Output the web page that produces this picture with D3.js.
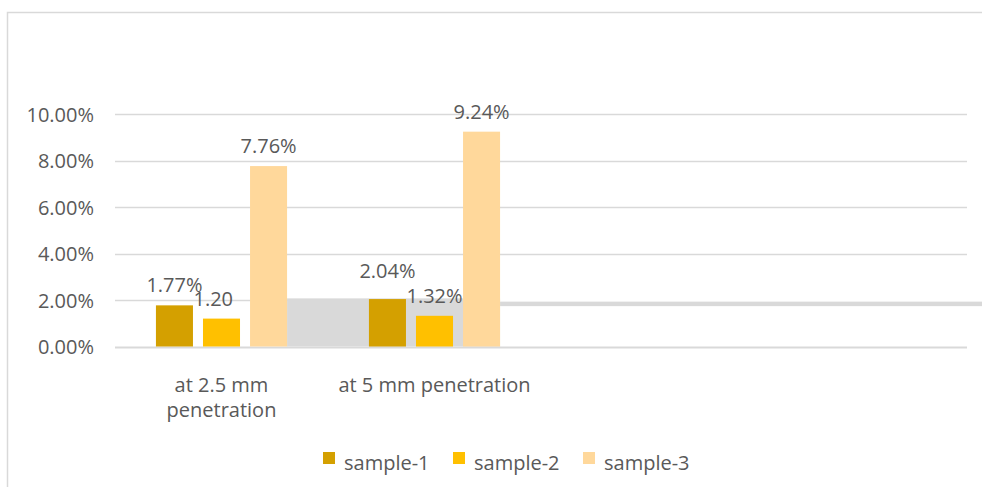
<!DOCTYPE html>
<html>
<head>
<meta charset="utf-8">
<script src="https://cdn.jsdelivr.net/npm/d3@7/dist/d3.min.js"></script>
<style>
  html, body { margin: 0; padding: 0; background: #ffffff; }
  svg { display: block; }
  text { font-family: "Open Sans", "Noto Sans", sans-serif; fill: #595959; }
</style>
</head>
<body>
<svg id="chart" width="982" height="487"></svg>
<script>
// Categories (the two trailing slots are empty, as in the source workbook)
const categories = ["at 2.5 mm penetration", "at 5 mm penetration", "", " "];
const categoryLines = [["at 2.5 mm", "penetration"], ["at 5 mm penetration"], [], []];
const seriesNames = ["sample-1", "sample-2", "sample-3"];
const sample1 = [1.77, 2.04];
const sample2 = [1.20, 1.32];
const sample3 = [7.76, 9.24];
const seriesColors = ["#d4a000", "#ffc000", "#ffd89b"];
// Label text shown on the bars (the second one is truncated in the source)
const labelText1 = ["1.77%", "2.04%"];
const labelText2 = ["1.20", "1.32%"];
const labelText3 = ["7.76%", "9.24%"];
const yTicks = [0, 2, 4, 6, 8, 10];

const series = [sample1, sample2, sample3];
const labels = [labelText1, labelText2, labelText3];
const FONT = 20;

const svg = d3.select("#chart");

// chart frame
svg.append("path")
  .attr("d", "M7.5,487 V12.5 H982")
  .attr("fill", "none")
  .attr("stroke", "#d9d9d9")
  .attr("stroke-width", 1.5);

const plot = { left: 115, right: 967, top: 114, bottom: 346.5 };

const x0 = d3.scaleBand().domain(categories).range([plot.left, plot.right]);
const x1 = d3.scaleBand().domain(seriesNames)
  .range([0, x0.bandwidth()]).paddingInner(0.213).paddingOuter(0.87);
const y = d3.scaleLinear().domain([0, 10]).range([plot.bottom, plot.top]);

// extent of the grey overlay shape lying behind the second group
const g0 = x0(categories[0]), g1 = x0(categories[1]);
const shapeX0 = g0 + x1("sample-3") + x1.bandwidth();
const shapeX1 = g1 + x1("sample-3") + x1.bandwidth();

// gridlines (the 2% line disappears under the grey overlay)
svg.append("g").selectAll("line").data(yTicks).join("line")
  .attr("x1", plot.left).attr("x2", d => d === 2 ? shapeX1 : plot.right)
  .attr("y1", d => Math.round(y(d)) + 0.5).attr("y2", d => Math.round(y(d)) + 0.5)
  .attr("stroke", "#d9d9d9").attr("stroke-width", d => d === 0 ? 2 : 1.5);

// grey overlay
const shapeTop = y(2.07);
svg.append("rect")
  .attr("x", shapeX0).attr("y", shapeTop)
  .attr("width", shapeX1 - shapeX0)
  .attr("height", plot.bottom - shapeTop)
  .attr("fill", "#d9d9d9");
svg.append("rect")
  .attr("x", shapeX1).attr("y", y(1.93))
  .attr("width", 982 - shapeX1)
  .attr("height", 4.5)
  .attr("fill", "#d9d9d9");

// y axis tick labels
const yAxis = d3.axisLeft(y).tickValues(yTicks).tickSize(0).tickPadding(0)
  .tickFormat(d => d3.format(".2f")(d) + "%");
const yg = svg.append("g").attr("transform", `translate(94,0)`).call(yAxis);
yg.select(".domain").remove();
yg.selectAll("text").attr("font-size", FONT).attr("fill", "#595959")
  .attr("font-family", "'Open Sans', sans-serif").attr("dy", "0.36em");

// bars
const barData = [];
series.forEach((vals, si) => vals.forEach((v, ci) => barData.push({ s: seriesNames[si], si, c: categories[ci], v, label: labels[si][ci] })));

svg.append("g").selectAll("rect").data(barData).join("rect")
  .attr("x", d => x0(d.c) + x1(d.s))
  .attr("y", d => y(d.v))
  .attr("width", x1.bandwidth())
  .attr("height", d => y(0) - y(d.v))
  .attr("fill", d => seriesColors[d.si]);

// value labels; the 2.04% label is lifted clear of its neighbour
const lift = d => (d.si === 0 && d.c === categories[1]) ? 8 : 0;
const lbl = svg.append("g").selectAll("text").data(barData).join("text")
  .attr("font-size", FONT)
  .attr("y", d => y(d.v) - 13 - lift(d))
  .text(d => d.v.toFixed(2) + "%");
lbl.each(function (d) {
  const cx = x0(d.c) + x1(d.s) + x1.bandwidth() / 2;
  const w = this.getComputedTextLength();
  d3.select(this).attr("x", cx - w / 2).text(d.label);
});

// category labels
const catG = svg.append("g");
categories.forEach((c, i) => {
  const cx = x0(c) + x0.bandwidth() / 2;
  categoryLines[i].forEach((line, li) => {
    catG.append("text")
      .attr("x", cx).attr("y", 392 + li * 25)
      .attr("text-anchor", "middle").attr("font-size", FONT)
      .text(line);
  });
});

// legend
const legendX = [323, 453, 583];
const lg = svg.append("g");
seriesNames.forEach((n, i) => {
  lg.append("rect").attr("x", legendX[i]).attr("y", 452).attr("width", 12).attr("height", 12)
    .attr("fill", seriesColors[i]);
  lg.append("text").attr("x", legendX[i] + 21).attr("y", 470).attr("font-size", FONT).text(n);
});
</script>
</body>
</html>
